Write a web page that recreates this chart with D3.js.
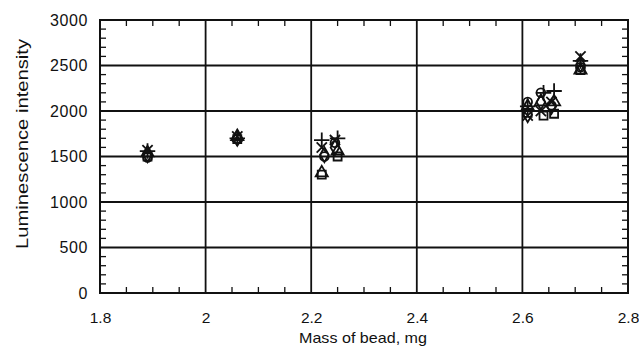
<!DOCTYPE html>
<html>
<head>
<meta charset="utf-8">
<script src="https://cdn.jsdelivr.net/npm/d3@7"></script>
<style>
  body { margin: 0; background: #fff; }
  text { font-family: "Liberation Sans", Arial, sans-serif; fill: #111; }
</style>
</head>
<body>
<div id="chart"></div>
<script>
// data
const xTicks = [1.8, 2, 2.2, 2.4, 2.6, 2.8];
const yTicks = [0, 500, 1000, 1500, 2000, 2500, 3000];

const circleX = [1.89, 2.06, 2.225, 2.245, 2.61, 2.635, 2.655, 2.71];
const circleY = [1490, 1690, 1500, 1650, 2100, 2200, 2060, 2480];
const squareX = [1.89, 2.06, 2.22, 2.25, 2.61, 2.64, 2.66, 2.71];
const squareY = [1500, 1690, 1300, 1500, 1980, 1950, 1970, 2450];
const triangleX = [1.89, 2.06, 2.22, 2.25, 2.61, 2.635, 2.66, 2.71];
const triangleY = [1540, 1720, 1320, 1560, 2050, 2100, 2100, 2450];
const diamondX = [1.89, 2.06, 2.225, 2.245, 2.61, 2.635, 2.655, 2.71];
const diamondY = [1520, 1700, 1520, 1600, 1960, 2100, 2050, 2510];
const plusX = [1.89, 2.06, 2.22, 2.25, 2.61, 2.64, 2.66, 2.71];
const plusY = [1560, 1700, 1680, 1700, 2050, 2200, 2220, 2550];
const crossX = [1.89, 2.06, 2.22, 2.245, 2.61, 2.635, 2.655, 2.71];
const crossY = [1570, 1720, 1600, 1680, 1950, 2000, 2100, 2600];

const series = [
  {x: circleX, y: circleY, sym: d3.symbolCircle, size: 60},
  {x: squareX, y: squareY, sym: d3.symbolSquare, size: 64},
  {x: triangleX, y: triangleY, sym: d3.symbolTriangle, size: 64},
  {x: diamondX, y: diamondY, sym: d3.symbolDiamond, size: 64},
  {x: plusX, y: plusY, sym: d3.symbolCross2 || d3.symbolPlus, size: 80},
  {x: crossX, y: crossY, sym: d3.symbolX, size: 70}
];

const width = 639, height = 347;
const margin = {left: 100, right: 11, top: 20, bottom: 54};
const svg = d3.select('#chart').append('svg').attr('width', width).attr('height', height);

const x = d3.scaleLinear().domain([1.8, 2.8]).range([margin.left, width - margin.right]);
const y = d3.scaleLinear().domain([0, 3000]).range([height - margin.bottom, margin.top]);

// grid lines
svg.append('g').selectAll('line').data(xTicks.slice(1, -1)).enter().append('line')
  .attr('x1', d => x(d)).attr('x2', d => x(d))
  .attr('y1', y(0)).attr('y2', y(3000))
  .attr('stroke', '#111').attr('stroke-width', 1.8);
svg.append('g').selectAll('line').data(yTicks.slice(1, -1)).enter().append('line')
  .attr('x1', x(1.8)).attr('x2', x(2.8))
  .attr('y1', d => y(d)).attr('y2', d => y(d))
  .attr('stroke', '#111').attr('stroke-width', 1.8);

// minor ticks, inward on all four sides
const xMinor = d3.range(1.85, 2.8, 0.05).filter(v => Math.abs(v * 5 - Math.round(v * 5)) > 1e-6);
const yMinor = d3.range(100, 3000, 100).filter(v => v % 500 !== 0);
const tl = 6;
const minor = svg.append('g').attr('stroke', '#111').attr('stroke-width', 1.3);
xMinor.forEach(v => {
  minor.append('line').attr('x1', x(v)).attr('x2', x(v)).attr('y1', y(0)).attr('y2', y(0) - tl);
  minor.append('line').attr('x1', x(v)).attr('x2', x(v)).attr('y1', y(3000)).attr('y2', y(3000) + tl);
});
yMinor.forEach(v => {
  minor.append('line').attr('x1', x(1.8)).attr('x2', x(1.8) + tl).attr('y1', y(v)).attr('y2', y(v));
  minor.append('line').attr('x1', x(2.8)).attr('x2', x(2.8) - tl).attr('y1', y(v)).attr('y2', y(v));
});

// frame
svg.append('rect')
  .attr('x', x(1.8)).attr('y', y(3000))
  .attr('width', x(2.8) - x(1.8)).attr('height', y(0) - y(3000))
  .attr('fill', 'none').attr('stroke', '#111').attr('stroke-width', 2);

// tick labels via d3 axes (lines hidden)
const xAxis = svg.append('g')
  .attr('transform', 'translate(0,' + y(0) + ')')
  .call(d3.axisBottom(x).tickValues(xTicks).tickSize(0).tickPadding(19).tickFormat(d3.format('')));
const yAxis = svg.append('g')
  .attr('transform', 'translate(' + x(1.8) + ',0)')
  .call(d3.axisLeft(y).tickValues(yTicks).tickSize(0).tickPadding(12).tickFormat(d3.format('')));
[xAxis, yAxis].forEach(g => {
  g.select('.domain').remove();
  g.selectAll('text').style('font-family', '"Liberation Sans", Arial, sans-serif').attr('fill', '#111');
});
xAxis.selectAll('text').style('font-size', '15.5px');
yAxis.selectAll('text').style('font-size', '16px').style('letter-spacing', '0.6px');

svg.append('text')
  .attr('x', 363).attr('y', 343)
  .attr('text-anchor', 'middle').style('font-size', '15px')
  .attr('textLength', 128).attr('lengthAdjust', 'spacingAndGlyphs')
  .text('Mass of bead, mg');
svg.append('text')
  .attr('transform', 'translate(28,144) rotate(-90)')
  .attr('text-anchor', 'middle').style('font-size', '16px')
  .attr('textLength', 210).attr('lengthAdjust', 'spacingAndGlyphs')
  .text('Luminescence intensity');

// markers
series.forEach(s => {
  const path = d3.symbol().type(s.sym).size(s.size)();
  svg.append('g').selectAll('path').data(s.x.map((v, i) => [v, s.y[i]])).enter()
    .append('path')
    .attr('d', path)
    .attr('transform', d => 'translate(' + x(d[0]) + ',' + y(d[1]) + ')')
    .attr('fill', 'none').attr('stroke', '#111').attr('stroke-width', 1.8);
});
</script>
</body>
</html>
